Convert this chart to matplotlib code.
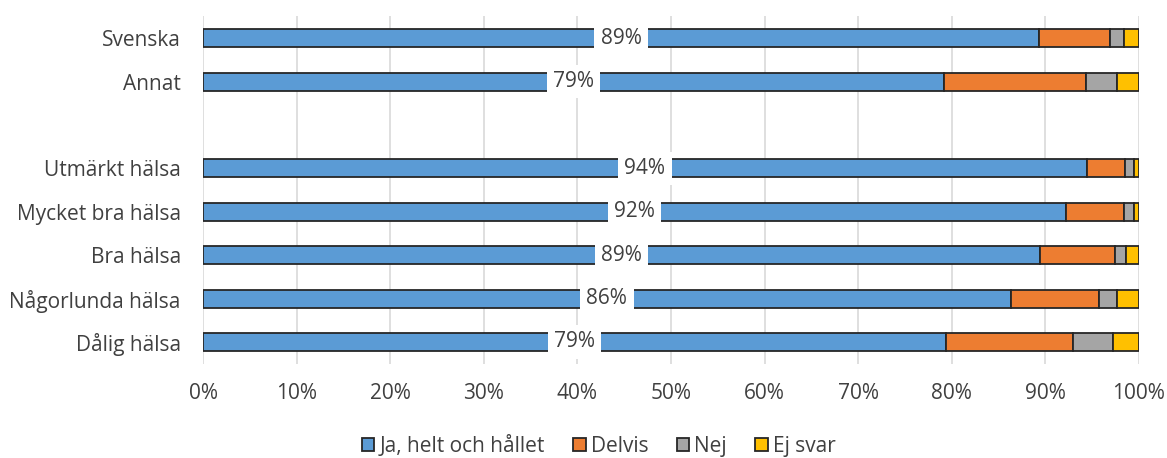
import numpy as np
import matplotlib.pyplot as plt

plt.rcParams['font.family'] = ['Open Sans', 'DejaVu Sans']

# Categories top to bottom; an empty string leaves a gap row
categories = ['Svenska', 'Annat', '', 'Utmärkt hälsa', 'Mycket bra hälsa',
              'Bra hälsa', 'Någorlunda hälsa', 'Dålig hälsa']

ja = [89.3, 79.2, np.nan, 94.4, 92.2, 89.4, 86.3, 79.4]
delvis = [7.6, 15.1, np.nan, 4.1, 6.2, 8.0, 9.4, 13.5]
nej = [1.5, 3.4, np.nan, 1.0, 1.1, 1.2, 1.9, 4.3]
ej_svar = [1.6, 2.3, np.nan, 0.5, 0.5, 1.4, 2.4, 2.8]

series = [('Ja, helt och hållet', ja, '#5B9BD5'),
          ('Delvis', delvis, '#ED7D31'),
          ('Nej', nej, '#A5A5A5'),
          ('Ej svar', ej_svar, '#FFC000')]

text_color = '#404040'
fs = 15

fig, ax = plt.subplots(figsize=(11.67, 4.58), dpi=100)
fig.subplots_adjust(left=0.174, right=0.976, top=0.964, bottom=0.206)

y = np.arange(len(categories))
has_data = ~np.isnan(np.array(ja, dtype=float))
left = np.zeros(len(categories))
for name, vals, color in series:
    vals = np.nan_to_num(np.array(vals, dtype=float))
    ax.barh(y[has_data], vals[has_data], left=left[has_data], height=0.415,
            color=color, edgecolor='#262626', linewidth=1.3, label=name, zorder=3)
    left += vals

# percentage label in the middle of the first segment
for yi, v in zip(y, ja):
    if np.isnan(v):
        continue
    ax.text(v / 2, yi, f'{round(v)}%', ha='center', va='center', fontsize=fs,
            color=text_color, zorder=4,
            bbox=dict(boxstyle='square,pad=0.3', fc='white', ec='none'))

ax.set_xlim(0, 100)
ax.set_ylim(len(categories) - 0.5, -0.5)
ax.set_xticks(np.arange(0, 101, 10))
ax.set_xticklabels([f'{t}%' for t in range(0, 101, 10)])
ax.set_yticks(y)
ax.set_yticklabels(categories)
ax.tick_params(axis='both', length=0, labelsize=fs, colors=text_color)
ax.tick_params(axis='y', pad=16)
ax.tick_params(axis='x', pad=14)
ax.grid(axis='x', color='#D9D9D9', linewidth=1.2, zorder=0)
for s in ax.spines.values():
    s.set_visible(False)

ax.legend(loc='center', bbox_to_anchor=(0.513, 0.026), bbox_transform=fig.transFigure,
          ncol=4, frameon=False, fontsize=fs, handlelength=0.6, handleheight=0.6,
          handletextpad=0.25, columnspacing=1.35, labelcolor=text_color)

fig.savefig('out.png', dpi=100)
